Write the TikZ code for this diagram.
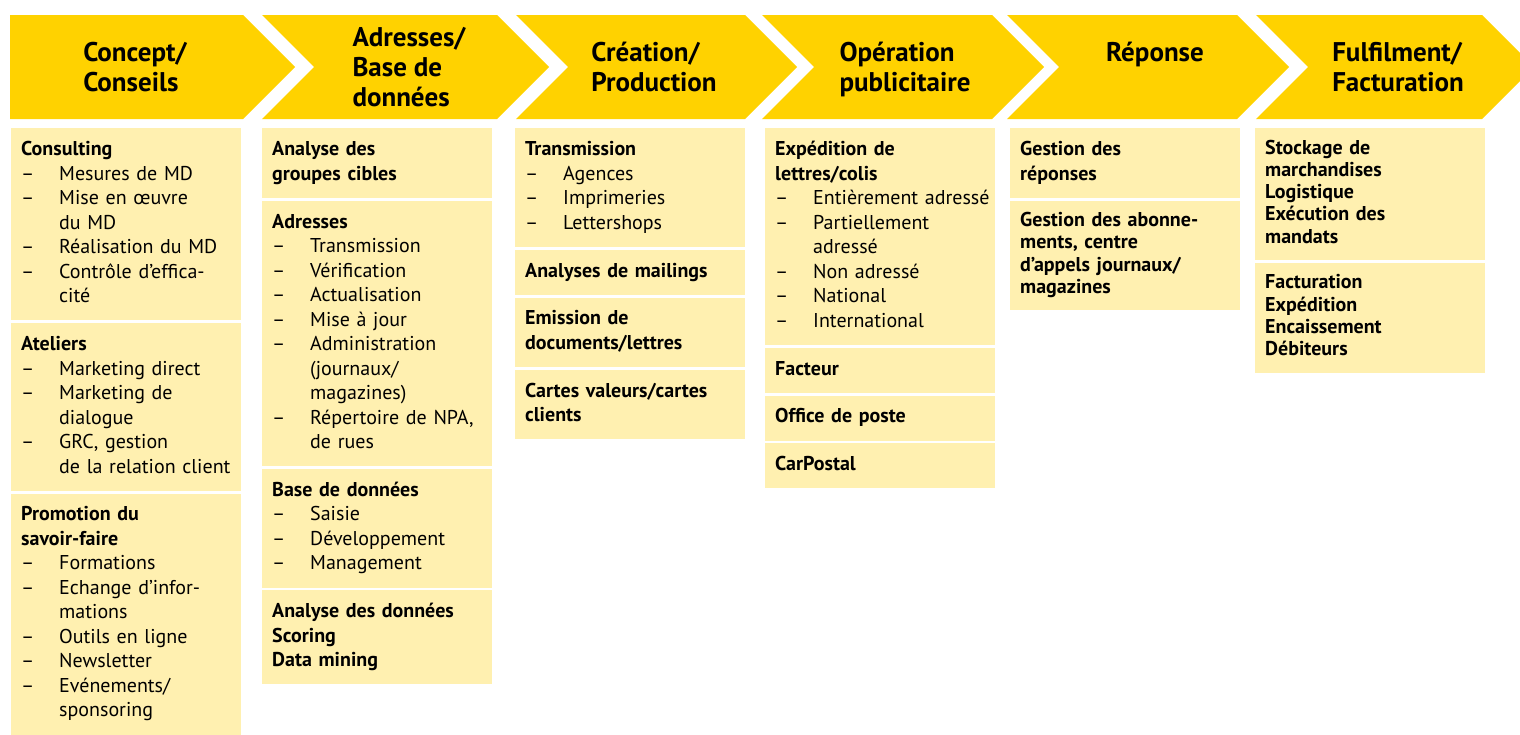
\documentclass[tikz,border=0pt]{standalone}
\usepackage{fontspec}
\setmainfont{PT Sans}
\usepackage{tikz}
\usetikzlibrary{positioning}
\definecolor{postyellow}{RGB}{255,210,0}
\definecolor{paleyellow}{RGB}{255,240,176}
\newcommand{\itemdash}{\makebox[38pt][l]{–}}
\newcommand{\itemcont}{\hspace*{38pt}}

\begin{document}
\begin{tikzpicture}[x=1pt, y=-1pt, node distance=2.5pt,
  stage/.style={font=\fontsize{27}{30}\selectfont\bfseries, align=left, inner sep=0pt, execute at begin node=\strut, execute at end node=\strut},
  box/.style={fill=paleyellow, anchor=north west, text width=210pt, inner xsep=10pt, inner ysep=10.25pt, align=left, font=\fontsize{20}{24.5}\selectfont, execute at begin node=\strut, execute at end node=\strut},
  tight/.style={font=\fontsize{20}{22.3}\selectfont}]
\useasboundingbox (0,0) rectangle (1520,734);
\fill[white] (0,0) rectangle (1520,734);

% chevrons of the process stages
\foreach \l/\r/\d/\c/\txt [count=\i] in {10/243/0/135/{Concept/\\Conseils}, 262/497/52/409/{Adresses/\\Base de\\données}, 516/745/52/654/{Création/\\Production}, 762/992/52/905/{Opération\\publicitaire}, 1007/1237/52/1155/{Réponse\\~}, 1256/1482/52/1398/{Fulfilment/\\Facturation}} {
  \fill[postyellow] (\l,15) -- (\r,15) -- (\r+52,67) -- (\r,119) -- (\l,119) -- (\l+\d,67) -- cycle;
  \node[stage] (s\i) at (\c,71.5) {\txt};
}

% column 1
\node[box] (consult) at (11,128) {\textbf{Consulting}\\ \itemdash Mesures de MD\\ \itemdash Mise en œuvre\\ \itemcont du MD\\ \itemdash Réalisation du MD\\ \itemdash Contrôle d’effica-\\ \itemcont cité};
\node[box, below=of consult] (ateliers) {\textbf{Ateliers}\\ \itemdash Marketing direct\\ \itemdash Marketing de\\ \itemcont dialogue\\ \itemdash GRC, gestion\\ \itemcont de la relation client};
\node[box, below=of ateliers] (promo) {\textbf{Promotion du}\\ \textbf{savoir-faire}\\ \itemdash Formations\\ \itemdash Echange d’infor-\\ \itemcont mations\\ \itemdash Outils en ligne\\ \itemdash Newsletter\\ \itemdash Evénements/\\ \itemcont sponsoring};

% column 2
\node[box] (cibles) at (262,128) {\bfseries Analyse des\\ groupes cibles};
\node[box, below=of cibles] (adresses) {\textbf{Adresses}\\ \itemdash Transmission\\ \itemdash Vérification\\ \itemdash Actualisation\\ \itemdash Mise à jour\\ \itemdash Administration\\ \itemcont (journaux/\\ \itemcont magazines)\\ \itemdash Répertoire de NPA,\\ \itemcont de rues};
\node[box, below=of adresses] (bdd) {\textbf{Base de données}\\ \itemdash Saisie\\ \itemdash Développement\\ \itemdash Management};
\node[box, below=of bdd] (analyse) {\bfseries Analyse des données\\ Scoring\\ Data mining};

% column 3
\node[box] (transm) at (515,128) {\textbf{Transmission}\\ \itemdash Agences\\ \itemdash Imprimeries\\ \itemdash Lettershops};
\node[box, below=of transm] (mailings) {\bfseries Analyses de mailings};
\node[box, below=of mailings] (emission) {\bfseries Emission de\\ documents/lettres};
\node[box, below=of emission] (cartes) {\bfseries Cartes valeurs/cartes\\ clients};

% column 4
\node[box] (expedition) at (765,128) {\textbf{Expédition de}\\ \textbf{lettres/colis}\\ \itemdash Entièrement~adressé\\ \itemdash Partiellement\\ \itemcont adressé\\ \itemdash Non adressé\\ \itemdash National\\ \itemdash International};
\node[box, below=of expedition] (facteur) {\bfseries Facteur};
\node[box, below=of facteur] (office) {\bfseries Office de poste};
\node[box, below=of office] (carpostal) {\bfseries CarPostal};

% column 5
\node[box] (reponses) at (1010,128) {\bfseries Gestion des\\ réponses};
\node[box, tight, below=of reponses] (abonnements) {\bfseries Gestion des abonne-\\ ments, centre\\ d’appels journaux/\\ magazines};

% column 6
\node[box, tight] (stockage) at (1255,128) {\bfseries Stockage de\\ marchandises\\ Logistique\\ Exécution des\\ mandats};
\node[box, tight, below=of stockage] (facturation) {\bfseries Facturation\\ Expédition\\ Encaissement\\ Débiteurs};
\end{tikzpicture}
\end{document}
